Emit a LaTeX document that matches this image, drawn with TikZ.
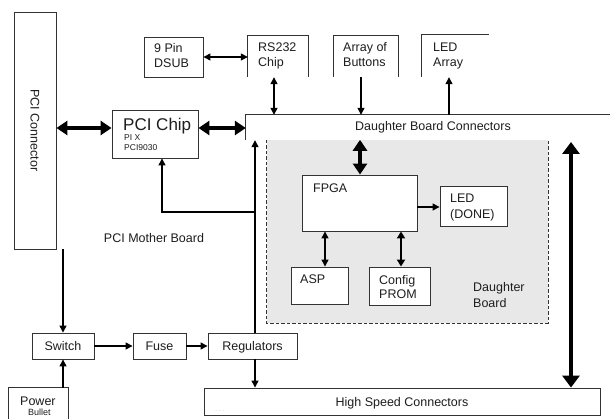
\documentclass[tikz,border=0pt]{standalone}
\usepackage{fontspec}
\setmainfont{Liberation Sans}
\usetikzlibrary{arrows.meta}

\definecolor{linec}{HTML}{333333}
\definecolor{textc}{HTML}{1E1E1E}
\definecolor{boardfill}{HTML}{E8E8E8}

\begin{document}
\begin{tikzpicture}[x=1pt,y=-1pt,
  box/.style={draw=linec, line width=0.9pt, inner sep=0pt, fill=white},
  open/.style={inner sep=0pt},
  edge/.style={draw=linec, line width=0.9pt},
  lbl/.style={anchor=base west, inner sep=0pt, text=textc, font=\fontsize{12.5}{15}\selectfont},
  clbl/.style={anchor=base, inner sep=0pt, text=textc, font=\fontsize{12.5}{15}\selectfont},
  small/.style={anchor=base west, inner sep=0pt, text=textc, font=\fontsize{8.5}{10}\selectfont},
  thin/.style={draw=black, line width=1.3pt, -{Triangle[length=7pt,width=7pt]}},
  thinboth/.style={draw=black, line width=1.3pt, {Triangle[length=7pt,width=7pt]}-{Triangle[length=7pt,width=7pt]}},
  medboth/.style={draw=black, line width=1.8pt, {Triangle[length=7pt,width=8pt]}-{Triangle[length=7pt,width=8pt]}},
  fat/.style={draw=black, line width=3.8pt, {Triangle[length=11pt,width=14pt]}-{Triangle[length=11pt,width=14pt]}},
  huge/.style={draw=black, line width=4.5pt, {Triangle[length=12pt,width=17pt]}-{Triangle[length=12pt,width=17pt]}}
]
\useasboundingbox (0,0) rectangle (610,419);
\fill[white] (0,0) rectangle (610,419);

% helper coordinates for connector rails
\coordinate (busY) at (0,128);
\coordinate (rsX) at (274,0);
\coordinate (btnX) at (361,0);
\coordinate (ledX) at (449,0);
\coordinate (pwrX) at (255,0);
\coordinate (chipX) at (162,0);
\coordinate (fpgaX) at (360,0);
\coordinate (aspX) at (325,0);
\coordinate (promX) at (401,0);
\coordinate (hsX) at (571,0);
\coordinate (doneY) at (0,207);
\coordinate (tee) at (255,212);
\coordinate (hsTop) at (571,142);

% daughter board area
\node[open, fill=boardfill, minimum width=281pt, minimum height=183pt] (dauarea) at (407.5,231.5) {};
\draw[linec, line width=0.9pt, dash pattern=on 3.5pt off 2pt]
  (dauarea.north west) -- (dauarea.south west) -- (dauarea.south east) -- (dauarea.north east);

% boxes
\node[box, minimum width=42pt, minimum height=237pt] (pcicon) at (35,130.5) {};
\node[box, minimum width=59pt, minimum height=40pt] (dsub) at (173.5,57) {};
\node[open, minimum width=60pt, minimum height=41pt] (rs232) at (278,56.5) {};
\node[open, minimum width=64pt, minimum height=41pt] (buttons) at (366,56.5) {};
\node[open, minimum width=67pt, minimum height=42pt] (ledarr) at (455.5,56) {};
\node[box, minimum width=86pt, minimum height=48pt] (pcichip) at (155,134) {};
\node[open, minimum width=364pt, minimum height=25pt] (dbc) at (428,127.5) {};
\node[box, minimum width=115pt, minimum height=56pt] (fpga) at (359.5,203) {};
\node[box, minimum width=67pt, minimum height=40pt] (led) at (473.5,206) {};
\node[box, minimum width=57pt, minimum height=37pt] (asp) at (319.5,285.5) {};
\node[box, minimum width=61pt, minimum height=38pt] (prom) at (399.5,286) {};
\node[box, minimum width=62pt, minimum height=26pt] (switch) at (63,346) {};
\node[box, minimum width=53pt, minimum height=26pt] (fuse) at (159.5,346) {};
\node[box, minimum width=89pt, minimum height=26pt] (reg) at (252.5,346) {};
\node[box, minimum width=396pt, minimum height=27pt] (hsc) at (402,401.5) {};
\node[open, minimum width=59pt, minimum height=31pt] (power) at (38.5,403.5) {};

% partially drawn outlines
\path[edge] (rs232.south west) -- (rs232.north west) -- (rs232.north east) -- (rs232.south east);
\path[edge] (buttons.south west) -- (buttons.north west) -- (buttons.north east) -- (buttons.south east);
\path[edge] (ledarr.south west) -- (ledarr.north west) -- (ledarr.north east);
\path[edge] (dbc.south west) -- (dbc.north west) -- (dbc.north east);
\path[edge] (power.south west) -- (power.north west) -- (power.north east) -- (power.south east);

% labels
\node[text=textc, inner sep=0pt, rotate=-90, font=\fontsize{12.5}{15}\selectfont] (pciconT) at (pcicon.center) {PCI Connector};
\node[lbl] (dsubA) at (154,53) {9 Pin};
\node[lbl] (dsubB) at (154,68) {DSUB};
\node[lbl] (rsA) at (258,52) {RS232};
\node[lbl] (rsB) at (258,67) {Chip};
\node[lbl] (btnA) at (343,52) {Array of};
\node[lbl] (btnB) at (343,67) {Buttons};
\node[lbl] (ledA) at (433,52) {LED};
\node[lbl] (ledB) at (433,67) {Array};
\node[anchor=base west, inner sep=0pt, text=textc, font=\fontsize{17}{20}\selectfont] (chipA) at (123,131) {PCI Chip};
\node[small] (chipB) at (124,141) {PI X};
\node[small] (chipC) at (124,151) {PCI9030};
\node[clbl] (dbcT) at (433,131) {Daughter Board Connectors};
\node[lbl] (fpgaT) at (313,193) {FPGA};
\node[lbl] (ledC) at (450,203) {LED};
\node[lbl] (ledD) at (450,219) {(DONE)};
\node[lbl] (aspT) at (300,284) {ASP};
\node[lbl] (promA) at (379,285) {Config};
\node[lbl] (promB) at (379,299) {PROM};
\node[lbl] (dauA) at (473,292) {Daughter};
\node[lbl] (dauB) at (473,308) {Board};
\node[clbl] (mbT) at (154,243) {PCI Mother Board};
\node[clbl] (swT) at (switch.center) [yshift=-4.5pt] {Switch};
\node[clbl] (fuseT) at (fuse.center) [yshift=-4.5pt] {Fuse};
\node[clbl] (regT) at (reg.center) [yshift=-4.5pt] {Regulators};
\node[clbl] (hscT) at (hsc.center) [yshift=-4.5pt] {High Speed Connectors};
\node[anchor=base, inner sep=0pt, text=gray!70, font=\fontsize{6}{7}\selectfont] (hscDots) at (220,411) {. . .};
\node[lbl] (pwrA) at (20,405) {Power};
\node[anchor=base west, inner sep=0pt, text=textc, font=\fontsize{9}{10}\selectfont] (pwrB) at (28,415.5) {Bullet};

% PCI bus
\draw[fat] (pcicon.east |- busY) -- (pcichip.west |- busY);
\draw[fat] (pcichip.east |- busY) -- (dbc.west |- busY);

% serial and front-panel links
\draw[thinboth] (dsub.east) -- (rs232.west |- dsub.east);
\draw[thinboth] (rsX |- rs232.south) -- (rsX |- dbc.north);
\draw[thin] (btnX |- buttons.south) -- (btnX |- dbc.north);
\draw[thin] (ledX |- dbc.north) -- (ledX |- ledarr.south);

% daughter board links
\draw[fat] (fpgaX |- dauarea.north) -- (fpgaX |- fpga.north);
\draw[thin] (fpga.east |- doneY) -- (led.west |- doneY);
\draw[thinboth] (aspX |- fpga.south) -- (aspX |- asp.north);
\draw[medboth] (promX |- fpga.south) -- (promX |- prom.north);
\draw[huge] (hsTop) -- (hsX |- hsc.north);

% power distribution
\draw[thin] (pcicon.south -| switch.center) -- (switch.north);
\draw[thin] (power.north -| switch.center) -- (switch.south);
\draw[thin] (switch.east) -- (fuse.west);
\draw[thin] (fuse.east) -- (reg.west);
\draw[thin] (pwrX |- reg.north) -- (pwrX |- dbc.south);
\draw[thin] (pwrX |- reg.south) -- (pwrX |- hsc.north);
\draw[thin] (tee) -- (chipX |- tee) -- (chipX |- pcichip.south);
\end{tikzpicture}
\end{document}
